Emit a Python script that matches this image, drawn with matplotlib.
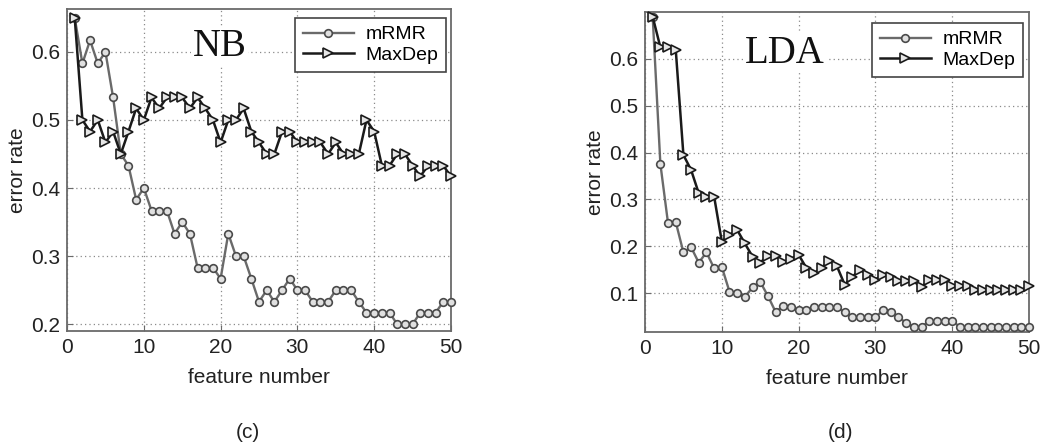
import matplotlib
matplotlib.use("Agg")
import matplotlib.pyplot as plt

plt.rcParams['font.family'] = ['Liberation Sans', 'DejaVu Sans']

# feature counts shared by both classifiers
features = list(range(1, 51))

# NB classifier error rates
nb_mrmr = [0.650, 0.583, 0.617, 0.583, 0.600, 0.533, 0.450, 0.433, 0.383, 0.400,
           0.367, 0.367, 0.367, 0.333, 0.350, 0.333, 0.283, 0.283, 0.283, 0.267,
           0.333, 0.300, 0.300, 0.267, 0.233, 0.250, 0.233, 0.250, 0.267, 0.250,
           0.250, 0.233, 0.233, 0.233, 0.250, 0.250, 0.250, 0.233, 0.217, 0.217,
           0.217, 0.217, 0.200, 0.200, 0.200, 0.217, 0.217, 0.217, 0.233, 0.233]
nb_maxdep = [0.650, 0.500, 0.483, 0.500, 0.467, 0.483, 0.450, 0.483, 0.517, 0.500,
             0.533, 0.517, 0.533, 0.533, 0.533, 0.517, 0.533, 0.517, 0.500, 0.467,
             0.500, 0.500, 0.517, 0.483, 0.467, 0.450, 0.450, 0.483, 0.483, 0.467,
             0.467, 0.467, 0.467, 0.450, 0.467, 0.450, 0.450, 0.450, 0.500, 0.483,
             0.433, 0.433, 0.450, 0.450, 0.433, 0.417, 0.433, 0.433, 0.433, 0.417]

# LDA classifier error rates
lda_mrmr = [0.690, 0.376, 0.249, 0.252, 0.187, 0.198, 0.165, 0.187, 0.153, 0.156,
            0.103, 0.100, 0.092, 0.112, 0.124, 0.094, 0.060, 0.072, 0.070, 0.063,
            0.063, 0.070, 0.070, 0.070, 0.070, 0.059, 0.049, 0.049, 0.049, 0.049,
            0.063, 0.059, 0.049, 0.036, 0.028, 0.028, 0.040, 0.040, 0.040, 0.040,
            0.028, 0.028, 0.028, 0.028, 0.028, 0.028, 0.028, 0.028, 0.028, 0.028]
lda_maxdep = [0.690, 0.625, 0.625, 0.620, 0.395, 0.363, 0.313, 0.306, 0.306, 0.210,
              0.224, 0.235, 0.206, 0.178, 0.165, 0.180, 0.180, 0.166, 0.173, 0.182,
              0.154, 0.142, 0.154, 0.169, 0.157, 0.118, 0.135, 0.150, 0.139, 0.129,
              0.139, 0.135, 0.125, 0.125, 0.125, 0.112, 0.129, 0.129, 0.129, 0.116,
              0.116, 0.116, 0.106, 0.106, 0.106, 0.106, 0.106, 0.106, 0.106, 0.116]

x_ticks = [0, 10, 20, 30, 40, 50]
nb_yticks = [0.2, 0.3, 0.4, 0.5, 0.6]
lda_yticks = [0.1, 0.2, 0.3, 0.4, 0.5, 0.6]

fig = plt.figure(figsize=(10.41, 4.48), dpi=100)


def draw_panel(rect, mrmr, maxdep, ylim, yticks, name, name_pos, legend_anchor):
    ax = fig.add_axes(rect)
    ax.plot(features, mrmr, color='#6a6a6a', lw=1.7, marker='o', ms=5.5,
            mfc='#e0e0e0', mec='#4a4a4a', mew=1.2, label='mRMR', clip_on=False, zorder=3)
    ax.plot(features, maxdep, color='#1a1a1a', lw=1.8, marker='>', ms=7,
            mfc='#e6e6e6', mec='#1a1a1a', mew=1.2, label='MaxDep', clip_on=False, zorder=4)
    ax.set_xlim(0, 50)
    ax.set_ylim(*ylim)
    ax.set_xticks(x_ticks)
    ax.set_yticks(yticks)
    ax.set_yticklabels([f'{v:g}' for v in yticks])
    ax.tick_params(direction='in', length=4, labelsize=15, colors='#6a6a6a',
                   labelcolor='#222222', pad=5)
    ax.grid(True, color='#8a8a8a', lw=0.9, linestyle=(0, (1, 2.5)))
    ax.set_axisbelow(True)
    for sp in ax.spines.values():
        sp.set_color('#6a6a6a')
        sp.set_linewidth(1.3)
    ax.set_xlabel('feature number', fontsize=15, color='#222222', labelpad=8)
    ax.set_ylabel('error rate', fontsize=15, color='#222222', labelpad=3)
    ax.text(name_pos[0], name_pos[1], name, transform=ax.transAxes, ha='center',
            va='center', fontsize=28, family='Liberation Serif', color='#111111',
            bbox=dict(facecolor='white', edgecolor='none', pad=1))
    leg = ax.legend(loc='upper right', bbox_to_anchor=legend_anchor, borderaxespad=0,
                    fontsize=14, fancybox=False, framealpha=1, handlelength=2.6,
                    borderpad=0.4, labelspacing=0.15, handletextpad=0.6)
    leg.get_frame().set_edgecolor('#444444')
    leg.get_frame().set_linewidth(1.2)
    return ax


draw_panel([0.0644, 0.261, 0.3688, 0.719], nb_mrmr, nb_maxdep, (0.19, 0.663),
           nb_yticks, 'NB', (0.398, 0.882), (0.987, 0.972))
draw_panel([0.6196, 0.259, 0.3689, 0.714], lda_mrmr, lda_maxdep, (0.017, 0.70),
           lda_yticks, 'LDA', (0.365, 0.872), (0.984, 0.966))

fig.text(248 / 1041, 1 - 432 / 448, '(c)', ha='center', va='center', fontsize=15, color='#222222')
fig.text(840 / 1041, 1 - 432 / 448, '(d)', ha='center', va='center', fontsize=15, color='#222222')

fig.savefig('out.png', dpi=100, facecolor='white')
